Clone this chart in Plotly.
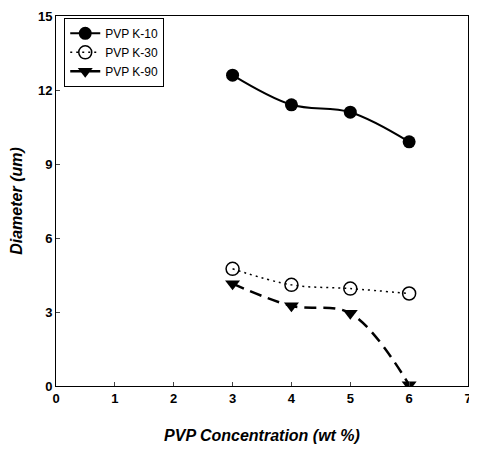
import plotly.graph_objects as go

conc = [3, 4, 5, 6]
k10 = [12.6, 11.4, 11.1, 9.9]
k30 = [4.75, 4.1, 3.95, 3.75]
k90 = [4.15, 3.25, 2.95, 0.05]
x_ticks = [0, 1, 2, 3, 4, 5, 6, 7]
y_ticks = [0, 3, 6, 9, 12, 15]

font_fam = "Liberation Sans Narrow, Arial Narrow, Liberation Sans, Arial"

fig = go.Figure()
fig.add_trace(go.Scatter(x=conc, y=k10, name="PVP K-10", mode="lines+markers",
                         line=dict(color="black", width=2, shape="spline"),
                         marker=dict(symbol="circle", size=13, color="black")))
fig.add_trace(go.Scatter(x=conc, y=k30, name="PVP K-30", mode="lines+markers",
                         line=dict(color="black", width=1.5, shape="spline", dash="2px,4px"),
                         marker=dict(symbol="circle-open", size=13, color="black", line=dict(width=1.5))))
fig.add_trace(go.Scatter(x=conc, y=k90, name="PVP K-90", mode="lines+markers",
                         line=dict(color="black", width=2.5, shape="spline", dash="12px,7px"),
                         marker=dict(symbol="triangle-down", size=13, color="black")))

fig.update_layout(
    width=469, height=436,
    margin=dict(l=48, r=9, t=8, b=58, autoexpand=False),
    paper_bgcolor="white", plot_bgcolor="white",
    font=dict(family=font_fam, color="black", size=13),
    showlegend=True,
    legend=dict(x=0.02, y=0.995, xanchor="left", yanchor="top",
                bordercolor="black", borderwidth=1, bgcolor="white",
                font=dict(size=12, family=font_fam), tracegroupgap=9),
)
fig.update_xaxes(range=[0, 7], tickvals=x_ticks, ticks="inside", ticklen=4,
                 showline=True, linecolor="black", linewidth=1, mirror=True,
                 showgrid=False, zeroline=False, ticklabeloverflow="allow", automargin=False,
                 tickfont=dict(size=13, family=font_fam, weight="bold"),
                 title=dict(text="<b><i>PVP Concentration (wt %)</i></b>", font=dict(size=16), standoff=27))
fig.update_yaxes(range=[0, 15], tickvals=y_ticks, ticks="inside", ticklen=4,
                 showline=True, linecolor="black", linewidth=1, mirror=True,
                 showgrid=False, zeroline=False, ticklabeloverflow="allow", automargin=False,
                 tickfont=dict(size=13, family=font_fam, weight="bold"),
                 title=dict(text="<b><i>Diameter (um)</i></b>", font=dict(size=16), standoff=16))

fig.write_html("out.html")
